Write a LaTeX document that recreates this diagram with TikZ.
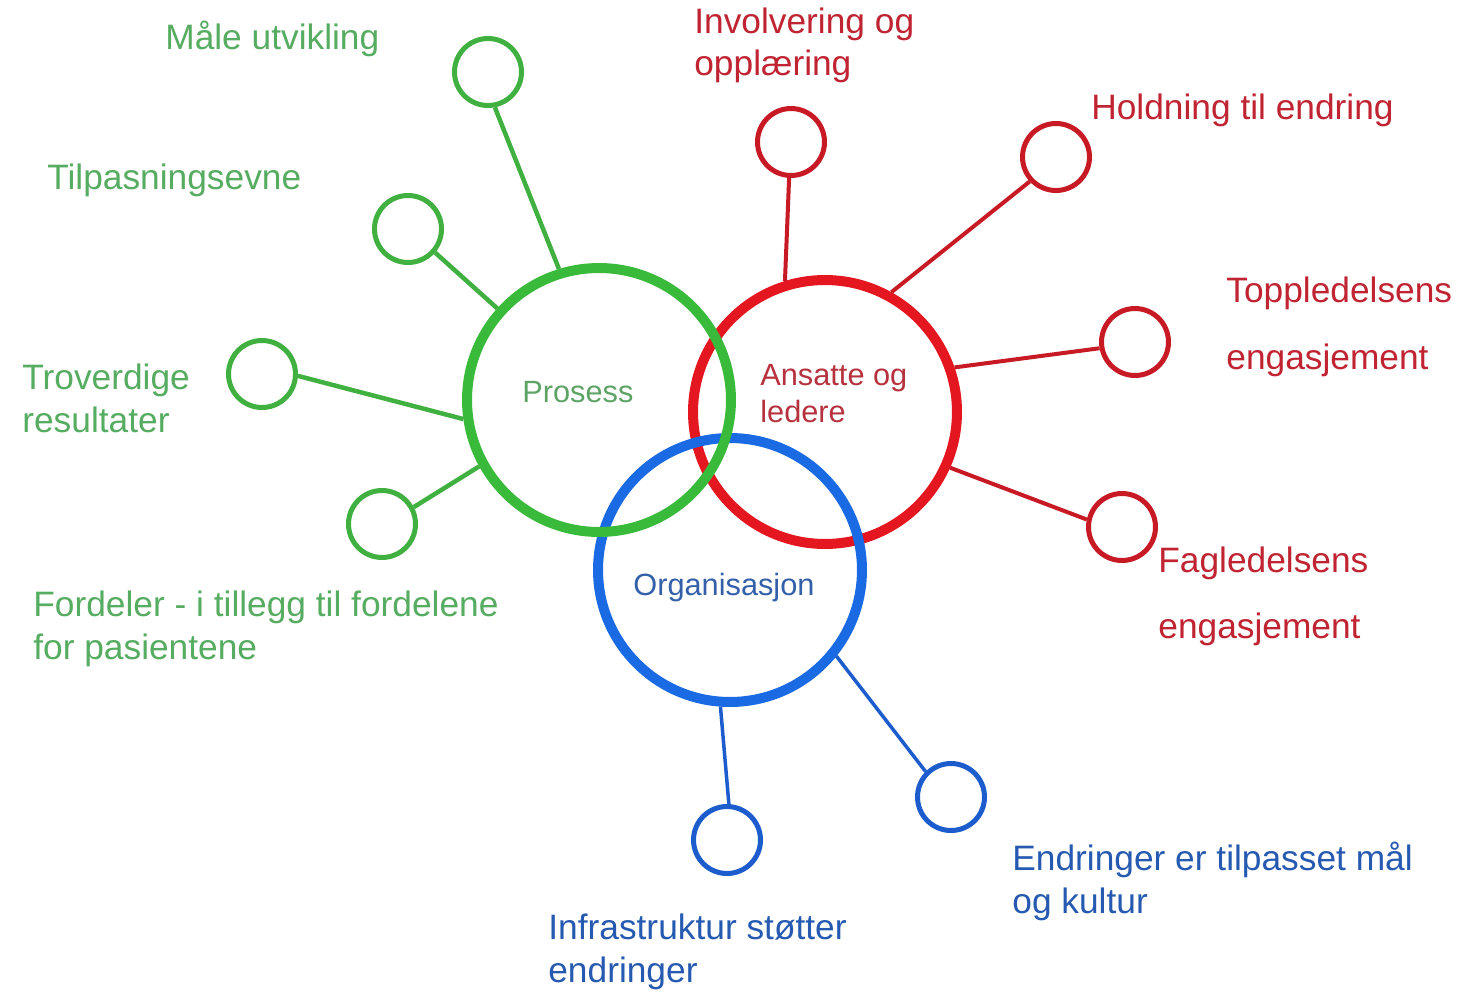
\documentclass[tikz,border=0pt]{standalone}
\usepackage{fontspec}
\setmainfont{Liberation Sans}
\usetikzlibrary{positioning}
\definecolor{ringgreen}{RGB}{58,186,58}
\definecolor{ringred}{RGB}{228,22,32}
\definecolor{ringblue}{RGB}{26,106,228}
\definecolor{leafgreen}{RGB}{64,176,64}
\definecolor{leafred}{RGB}{200,26,36}
\definecolor{leafblue}{RGB}{28,92,204}
\definecolor{textgreen}{RGB}{86,172,96}
\definecolor{textred}{RGB}{192,36,50}
\definecolor{textblue}{RGB}{38,90,176}

\begin{document}
\begin{tikzpicture}[x=0.02cm,y=-0.02cm,
    bigring/.style={circle,draw,line width=0.2cm,minimum size=5.28cm,inner sep=0pt},
    smallring/.style={circle,draw,line width=0.1cm,minimum size=1.34cm,inner sep=0pt},
    leaf/.style={anchor=base west,inner sep=0pt,align=left,font=\fontsize{20.1pt}{24.1pt}\selectfont},
    hub/.style={anchor=base west,inner sep=0pt,align=left,font=\fontsize{17.5pt}{21pt}\selectfont}]
    \useasboundingbox (0,0) rectangle (1460,993);
    %Rings
    \node[bigring,draw=ringred] (ansatte) at (825,412) {};
    \node[bigring,draw=ringblue] (org) at (730,570) {};
    \node[bigring,draw=ringgreen] (prosess) at (599,400) {};
    \node[hub,text=textgreen!80!gray] (prosesstext) at (522,402) {Prosess};
    \node[hub,text=textred!85!gray] (ansattetext) at (760,422) {Ansatte og\\ledere};
    \node[hub,text=textblue!85!gray] (orgtext) at (633,595) {Organisasjon};
    %Prosess
    \node[smallring,draw=leafgreen] (maale) at (488,72) {};
    \node[smallring,draw=leafgreen] (tilpas) at (408,229) {};
    \node[smallring,draw=leafgreen] (trover) at (262,374) {};
    \node[smallring,draw=leafgreen] (fordel) at (382,524) {};
    \draw[leafgreen,line width=0.09cm] (maale.-79) -- (prosess.107);
    \draw[leafgreen,line width=0.09cm] (tilpas.-41) -- (prosess.138);
    \draw[leafgreen,line width=0.09cm] (trover.-3) -- (prosess.-172);
    \draw[leafgreen,line width=0.09cm] (fordel.28) -- (prosess.-151);
    \node[leaf,text=textgreen] (maaletext) at (165,50) {Måle utvikling};
    \node[leaf,text=textgreen] (tilpastext) at (47,190) {Tilpasningsevne};
    \node[leaf,text=textgreen] (trovertext) at (22,432) {Troverdige\\resultater};
    \node[leaf,text=textgreen] (fordeltext) at (33,659) {Fordeler - i tillegg til fordelene\\for pasientene};
    %Ansatte og ledere
    \node[smallring,draw=leafred] (involv) at (791,142) {};
    \node[smallring,draw=leafred] (holdn) at (1056,157) {};
    \node[smallring,draw=leafred] (topp) at (1135,342) {};
    \node[smallring,draw=leafred] (fag) at (1122,527) {};
    \draw[leafred,line width=0.08cm] (involv.-93) -- (ansatte.107);
    \draw[leafred,line width=0.08cm] (holdn.-137) -- (ansatte.61);
    \draw[leafred,line width=0.08cm] (topp.-170) -- (ansatte.19);
    \draw[leafred,line width=0.08cm] (fag.168) -- (ansatte.-24);
    \node[leaf,text=textred] (involvtext) at (694,76) {Involvering og\\opplæring};
    \node[leaf,text=textred] (holdntext) at (1091,120) {Holdning til endring};
    \node[leaf,text=textred] (topptext) at (1226,369) {Toppledelsens\\[13.6pt]engasjement};
    \node[leaf,text=textred] (fagtext) at (1158,638) {Fagledelsens\\[13pt]engasjement};
    %Organisasjon
    \node[smallring,draw=leafblue] (infra) at (727,840) {};
    \node[smallring,draw=leafblue] (endr) at (951,797) {};
    \draw[leafblue,line width=0.07cm] (infra.87) -- (org.-94);
    \draw[leafblue,line width=0.07cm] (endr.135) -- (org.-39);
    \node[leaf,text=textblue] (infratext) at (548,982) {Infrastruktur støtter\\endringer};
    \node[leaf,text=textblue] (endrtext) at (1012,913) {Endringer er tilpasset mål\\og kultur};
\end{tikzpicture}
\end{document}
